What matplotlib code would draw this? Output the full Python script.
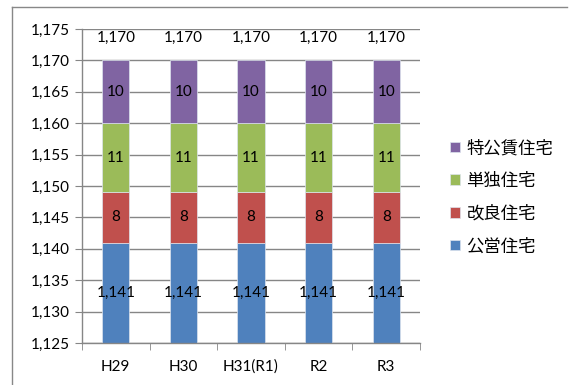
import matplotlib.pyplot as plt
import numpy as np

plt.rcParams['font.family'] = ['Lato', 'Noto Sans CJK JP']

years = ['H29', 'H30', 'H31(R1)', 'R2', 'R3']
koei = [1141, 1141, 1141, 1141, 1141]
kairyo = [8, 8, 8, 8, 8]
tandoku = [11, 11, 11, 11, 11]
tokkochin = [10, 10, 10, 10, 10]
totals = [1170, 1170, 1170, 1170, 1170]

series = [('公営住宅', koei, '#4F81BD'),
          ('改良住宅', kairyo, '#C0504D'),
          ('単独住宅', tandoku, '#9BBB59'),
          ('特公賃住宅', tokkochin, '#8064A2')]

ymin, ymax = 1125, 1175

fig = plt.figure(figsize=(5.75, 3.85), dpi=100)
ax = fig.add_axes([82/575, 1-343/385, (420-82)/575, (343-29)/385])

x = np.arange(len(years))
bottom = np.zeros(len(years))
handles = []
for name, vals, col in series:
    vals = np.array(vals, dtype=float)
    b = ax.bar(x, vals, 0.4, bottom=bottom, color=col, edgecolor='#dde4ee', linewidth=0.5, zorder=2)
    handles.append((b, name))
    for xi, bo, v in zip(x, bottom, vals):
        lo = max(bo, ymin)
        hi = min(bo + v, ymax)
        ax.text(xi, (lo + hi) / 2, f'{int(v):,}', ha='center', va='center', fontsize=11, zorder=3)
    bottom = bottom + vals

for xi, t in zip(x, totals):
    ax.text(xi, t + 3.6, f'{t:,}', ha='center', va='center', fontsize=11)

ax.set_ylim(ymin, ymax)
ax.set_xlim(-0.5, len(years) - 0.5)
ax.set_yticks(np.arange(ymin, ymax + 1, 5))
ax.set_yticklabels([f'{v:,}' for v in range(ymin, ymax + 1, 5)])
ax.yaxis.grid(True, color='#868686', linewidth=1)
ax.set_axisbelow(True)

ax.set_xticks(x)
ax.set_xticklabels(years)
ax.set_xticks(np.arange(-0.5, len(years), 1), minor=True)
ax.tick_params(axis='x', which='major', length=0, pad=12, labelsize=11)
ax.tick_params(axis='x', which='minor', length=5, color='#868686')
ax.tick_params(axis='y', length=5, color='#868686', labelsize=11, pad=4)

for s in ['top', 'right']:
    ax.spines[s].set_visible(False)
for s in ['left', 'bottom']:
    ax.spines[s].set_color('#868686')
    ax.spines[s].set_linewidth(1)

leg = fig.legend([h for h, _ in handles[::-1]], [n for _, n in handles[::-1]],
                 loc='center left', bbox_to_anchor=(450/575, 1-197/385), frameon=False,
                 fontsize=12.5, handlelength=0.55, handleheight=0.55, handletextpad=0.4,
                 labelspacing=0.95, borderpad=0, borderaxespad=0)

# outer chart border
fig.add_artist(plt.Line2D([12/575, 12/575], [0, 1-7/385], color='#888888', lw=1))
fig.add_artist(plt.Line2D([12/575, 567/575], [1-7/385, 1-7/385], color='#888888', lw=1))

fig.savefig('out.png', dpi=100)
